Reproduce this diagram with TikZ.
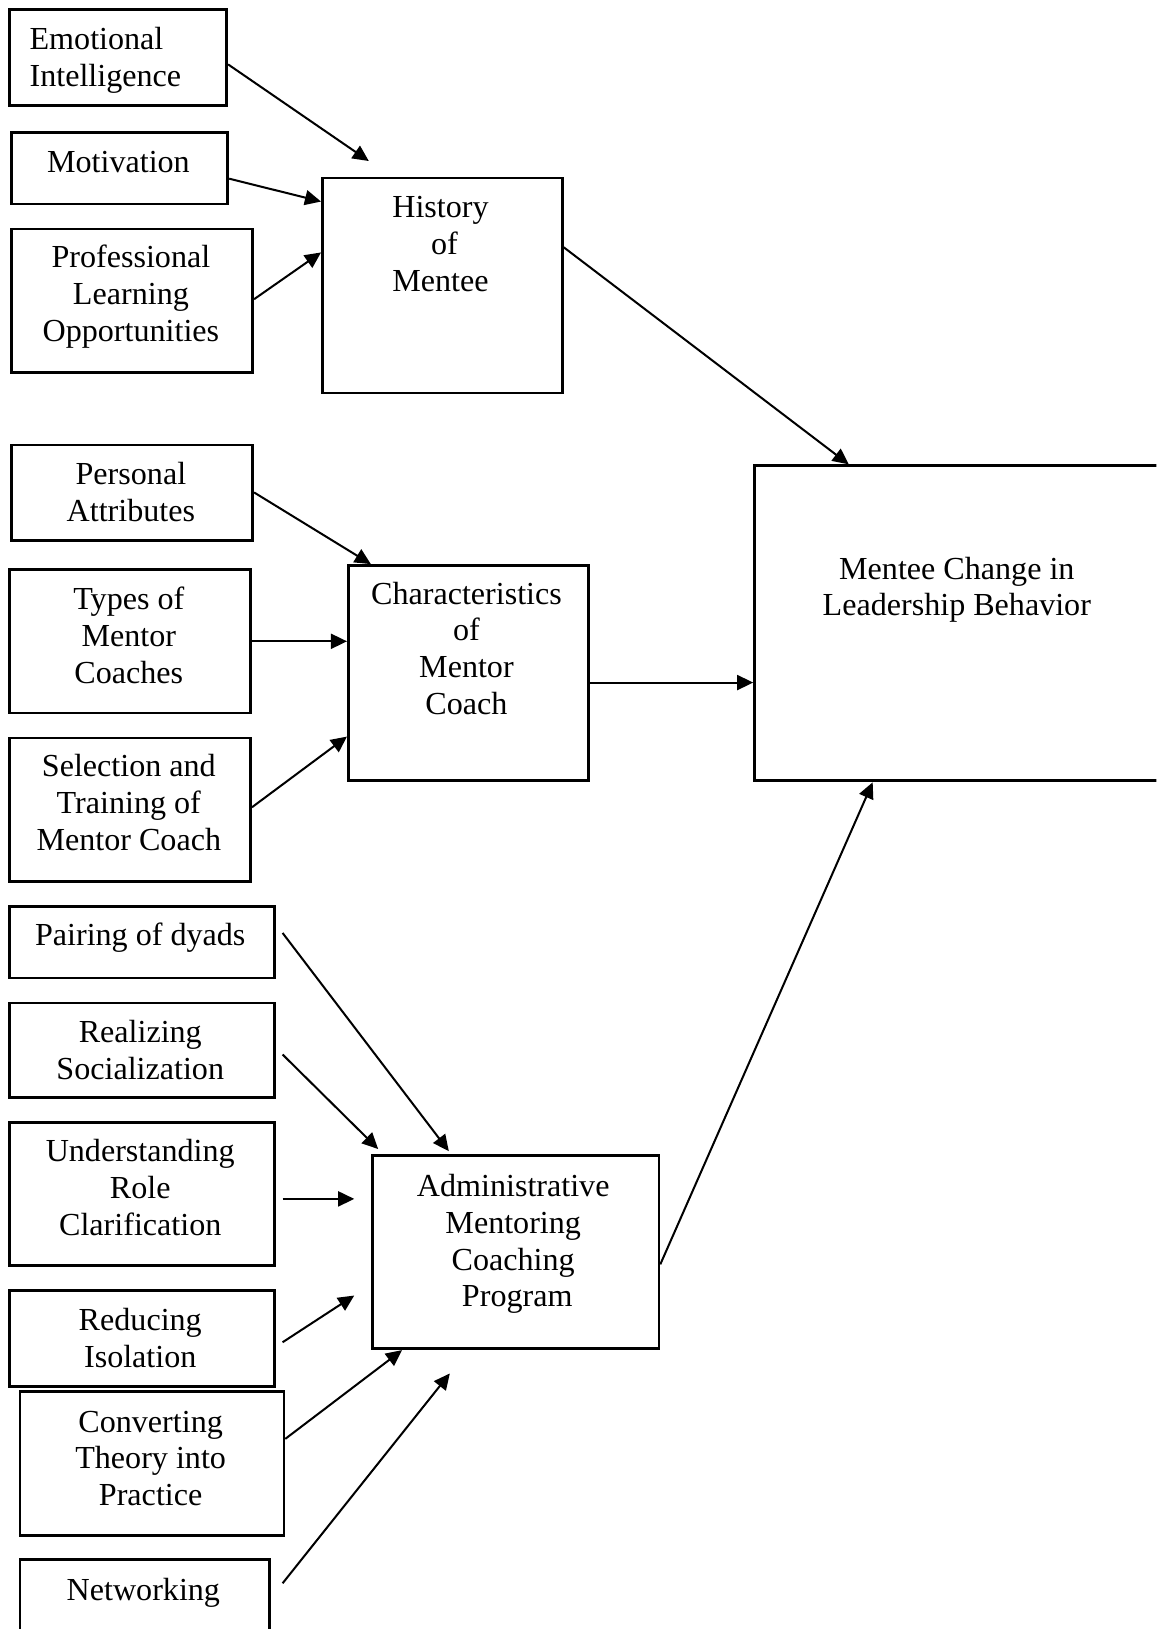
\documentclass[tikz,border=0pt]{standalone}
\usepackage{fontspec}
\setmainfont{Liberation Serif}
\usetikzlibrary{arrows.meta}
\def\pxu{0.3884pt}
\begin{document}
\begin{tikzpicture}[x=\pxu, y=-\pxu,
  blk/.style 2 args={draw, line width=1pt, inner sep=0pt, anchor=north west,
    minimum width=#1*\pxu, minimum height=#2*\pxu},
  txt/.style={anchor=north, align=center, inner sep=0pt,
    font=\fontsize{12}{13.8}\selectfont},
  arr/.style={line width=0.75pt, -{Triangle[length=6pt,width=5.6pt]}}]
\useasboundingbox (0,0) rectangle (1113,1568);
\clip (0,0) rectangle (1113,1568);

% boxes
\node[blk={209}{92}]  (emo)   at (8,8)     {};
\node[blk={208}{69}]  (mot)   at (10,126)  {};
\node[blk={232}{138}] (plo)   at (10,219)  {};
\node[blk={231}{207}] (hist)  at (309,170) {};
\node[blk={232}{92}]  (pers)  at (10,427)  {};
\node[blk={232}{138}] (types) at (8,547)   {};
\node[blk={232}{138}] (sel)   at (8,709)   {};
\node[blk={231}{207}] (char)  at (334,543) {};
\node[blk={420}{303}] (mc)    at (725,447) {};
\node[blk={255}{69}]  (pair)  at (8,871)   {};
\node[blk={255}{91}]  (real)  at (8,964)   {};
\node[blk={255}{138}] (und)   at (8,1079)  {};
\node[blk={255}{92}]  (red)   at (8,1241)  {};
\node[blk={254}{139}] (conv)  at (18,1338) {};
\node[blk={240}{90}]  (net)   at (18,1500) {};
\node[blk={276}{186}] (adm)   at (357,1111) {};

% texts
\node[txt, anchor=north west, align=left] (emo-t) at (28,22) {\strut Emotional\\Intelligence};
\node[txt] (mot-t)   at (114,141)  {\strut Motivation};
\node[txt] (plo-t)   at (126,232)  {\strut Professional\\Learning\\Opportunities};
\node[txt] (hist-t)  at (424,184)  {\strut History\\~of\\Mentee};
\node[txt] (pers-t)  at (126,441)  {\strut Personal\\Attributes};
\node[txt] (types-t) at (124,561)  {\strut Types of\\Mentor\\Coaches};
\node[txt] (sel-t)   at (124,722)  {\strut Selection and\\Training of\\Mentor Coach};
\node[txt] (char-t)  at (449,556)  {\strut Characteristics\\of\\Mentor\\Coach};
\node[txt] (mc-t)    at (921,532)  {\strut Mentee Change in\\Leadership Behavior};
\node[txt] (pair-t)  at (135,885)  {\strut Pairing of dyads};
\node[txt] (real-t)  at (135,978)  {\strut Realizing\\Socialization};
\node[txt] (und-t)   at (135,1093) {\strut Understanding\\Role\\Clarification};
\node[txt] (red-t)   at (135,1255) {\strut Reducing\\Isolation};
\node[txt] (conv-t)  at (145,1353) {\strut Converting\\Theory into\\Practice};
\node[txt] (net-t)   at (138,1515) {\strut Networking};
\node[txt] (adm-t)   at (494,1126) {\strut Administrative\\Mentoring\\Coaching\\~Program};

% free arrow ends
\coordinate (emo-in)  at (355,155);
\coordinate (adm-out) at (840,753);
\coordinate (pair-o)  at (272,898);
\coordinate (pair-in) at (432,1108);
\coordinate (real-o)  at (272,1015);
\coordinate (real-in) at (364,1106);
\coordinate (und-o)   at (272,1154);
\coordinate (und-in)  at (341,1154);
\coordinate (red-o)   at (272,1292);
\coordinate (red-in)  at (341,1247);
\coordinate (net-o)   at (272,1524);
\coordinate (net-in)  at (433,1322);

% connectors
\draw[arr] (emo.east |- 0,62) -- (emo-in);
\draw[arr] (mot.east |- 0,172) -- (hist.west |- 0,194);
\draw[arr] (plo.east |- 0,288) -- (hist.west |- 0,243);
\draw[arr] (hist.east |- 0,238) -- (mc.north -| 817,0);
\draw[arr] (pers.east |- 0,474) -- (char.north -| 357,0);
\draw[arr] (types.east) -- (types.east -| char.west);
\draw[arr] (sel.east |- 0,777) -- (char.west |- 0,709);
\draw[arr] (char.east |- 0,657) -- (mc.west |- 0,657);
\draw[arr] (adm.east |- 0,1217) -- (adm-out);
\draw[arr] (pair-o) -- (pair-in);
\draw[arr] (real-o) -- (real-in);
\draw[arr] (und-o) -- (und-in);
\draw[arr] (red-o) -- (red-in);
\draw[arr] (conv.east |- 0,1385) -- (adm.south -| 387,0);
\draw[arr] (net-o) -- (net-in);
\end{tikzpicture}
\end{document}
